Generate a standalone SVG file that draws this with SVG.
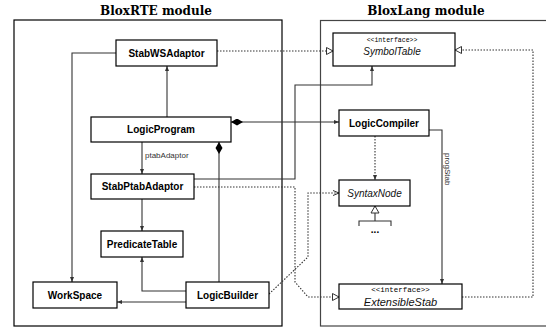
<svg xmlns="http://www.w3.org/2000/svg" width="546" height="328" viewBox="0 0 546 328">
  <style>
    .module { fill: none; stroke-width: 1.2; }
    .title { font-family: "DejaVu Serif", "Liberation Serif", serif; font-weight: bold; font-size: 12px; text-anchor: middle; fill: #000; }
    .box { fill: #fff; stroke: #000; stroke-width: 1.2; }
    .lbl { font-family: "Liberation Sans", Arial, sans-serif; font-weight: bold; font-size: 10px; text-anchor: middle; fill: #000; }
    .ital { font-family: "Liberation Sans", Arial, sans-serif; font-style: italic; font-size: 10px; text-anchor: middle; fill: #111; }
    .stereo { font-family: "Liberation Mono", "DejaVu Sans Mono", monospace; font-size: 6.5px; text-anchor: middle; fill: #000; }
    .small { font-family: "Liberation Sans", Arial, sans-serif; font-size: 8px; fill: #333; }
    .line { fill: none; stroke: #333; stroke-width: 1.1; }
    .dot { fill: none; stroke: #333; stroke-width: 1.1; stroke-dasharray: 1.5 1.5; }
  </style>
  <defs>
    <marker id="arrow" markerUnits="userSpaceOnUse" markerWidth="8" markerHeight="8" refX="5" refY="2.5" orient="auto">
      <path d="M0,0.5 L5,2.5 L0,4.5 z" fill="#333"/>
    </marker>
    <marker id="tri" markerUnits="userSpaceOnUse" markerWidth="10" markerHeight="10" refX="7" refY="4" orient="auto">
      <path d="M0.5,0.5 L7,4 L0.5,7.5 z" fill="#fff" stroke="#333" stroke-width="1"/>
    </marker>
    <marker id="vee" markerUnits="userSpaceOnUse" markerWidth="8" markerHeight="8" refX="6" refY="3" orient="auto">
      <path d="M0,0.5 L6,3 L0,5.5" fill="none" stroke="#333" stroke-width="1"/>
    </marker>
    <marker id="diamond" markerUnits="userSpaceOnUse" markerWidth="14" markerHeight="8" refX="0" refY="3.5" orient="auto">
      <path d="M0,3.5 L6,0 L12,3.5 L6,7 z" fill="#000"/>
    </marker>
  </defs>

  <!-- module frames -->
  <g id="moduleRTE">
    <rect class="module" x="14" y="20" width="268" height="306" stroke="#000"/>
    <text class="title" x="156" y="15">BloxRTE  module</text>
  </g>
  <g id="moduleLang">
    <rect class="module" x="320.5" y="20.5" width="230" height="305.5" stroke="#444"/>
    <text class="title" x="426" y="15">BloxLang module</text>
  </g>

  <!-- connectors -->
  <g id="connectors">
    <path class="line" d="M116,53 H72 V282" marker-end="url(#arrow)"/>
    <path class="dot" d="M217,51 H333" marker-end="url(#tri)"/>
    <path class="line" d="M167,117 V66" marker-end="url(#arrow)"/>
    <path class="line" d="M231,122 H339" marker-start="url(#diamond)" marker-end="url(#arrow)"/>
    <path class="line" d="M142,142 V174" marker-end="url(#arrow)"/>
    <text class="small" x="145" y="158">ptabAdaptor</text>
    <path class="line" d="M219,142 V282" marker-start="url(#diamond)"/>
    <path class="line" d="M194,179 H295 V85 H372 V66" marker-end="url(#arrow)"/>
    <path class="dot" d="M194,187 H295 V282 L308,297 H339" marker-end="url(#tri)"/>
    <path class="dot" d="M269,294 L308,257 V193 H339" marker-end="url(#vee)"/>
    <path class="dot" d="M375,136 V180" marker-end="url(#arrow)"/>
    <path class="line" d="M429,130 H442 V284" marker-end="url(#arrow)"/>
    <text class="small" transform="translate(445,153) rotate(90)">progStab</text>
    <path class="dot" d="M462,297 H533 V50 H455" marker-end="url(#tri)"/>
    <path class="line" d="M375,206 V221 M359,226 V221 H391 V226"/>
    <path d="M375,206 L379,213 L371,213 z" fill="#fff" stroke="#333" stroke-width="1"/>
    <text class="lbl" x="375" y="233">...</text>
    <path class="line" d="M186,291 H142 V257" marker-end="url(#arrow)"/>
    <path class="line" d="M142,199 V231" marker-end="url(#arrow)"/>
    <path class="line" d="M186,302 H117" marker-end="url(#arrow)"/>
  </g>

  <!-- BloxRTE nodes -->
  <g id="StabWSAdaptor">
    <rect class="box" x="116" y="40" width="101" height="26"/>
    <text class="lbl" x="166.5" y="56.5">StabWSAdaptor</text>
  </g>
  <g id="LogicProgram">
    <rect class="box" x="91" y="117" width="140" height="25"/>
    <text class="lbl" x="161" y="133">LogicProgram</text>
  </g>
  <g id="StabPtabAdaptor">
    <rect class="box" x="91" y="174" width="103" height="25"/>
    <text class="lbl" x="142.5" y="190">StabPtabAdaptor</text>
  </g>
  <g id="PredicateTable">
    <rect class="box" x="101" y="231" width="82" height="26"/>
    <text class="lbl" x="142" y="247.5">PredicateTable</text>
  </g>
  <g id="WorkSpace">
    <rect class="box" x="33" y="282" width="84" height="26"/>
    <text class="lbl" x="75" y="298.5">WorkSpace</text>
  </g>
  <g id="LogicBuilder">
    <rect class="box" x="186" y="282" width="83" height="26"/>
    <text class="lbl" x="227.5" y="298.5">LogicBuilder</text>
  </g>

  <!-- BloxLang nodes -->
  <g id="SymbolTable">
    <rect class="box" x="333" y="33" width="122" height="33"/>
    <text class="stereo" x="392" y="42">&lt;&lt;interface&gt;&gt;</text>
    <text class="ital" x="392" y="55">SymbolTable</text>
  </g>
  <g id="LogicCompiler">
    <rect class="box" x="339" y="110" width="90" height="26"/>
    <text class="lbl" x="384" y="126.5">LogicCompiler</text>
  </g>
  <g id="SyntaxNode">
    <rect class="box" x="339" y="180" width="71" height="26"/>
    <text class="ital" x="374.5" y="196.5">SyntaxNode</text>
  </g>
  <g id="ExtensibleStab">
    <rect class="box" x="339" y="284" width="123" height="25"/>
    <text class="stereo" x="400.5" y="292" style="font-size:7.5px">&lt;&lt;interface&gt;&gt;</text>
    <text class="ital" x="400.5" y="305.5" style="font-size:11px">ExtensibleStab</text>
  </g>
</svg>
